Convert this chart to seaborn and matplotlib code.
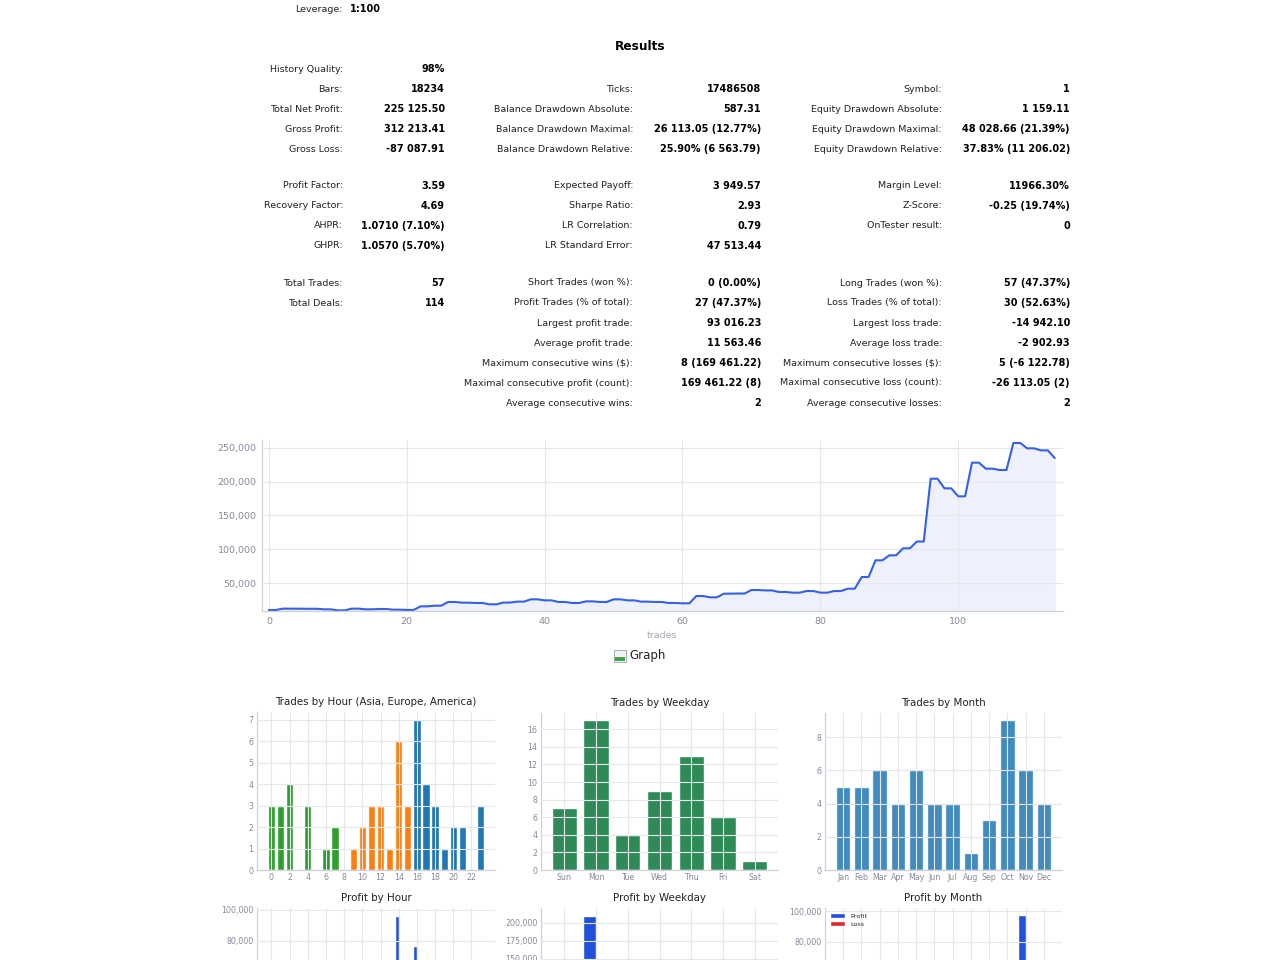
import matplotlib
matplotlib.use('Agg')
import matplotlib.pyplot as plt
from matplotlib.ticker import FuncFormatter, MultipleLocator
from matplotlib.patches import Rectangle
import numpy as np
import pandas as pd
import seaborn as sns

# ---------------- report values ----------------
leverage = '1:100'

stats1_a = [('History Quality:', '98%'), ('Bars:', '18234'), ('Total Net Profit:', '225 125.50'),
            ('Gross Profit:', '312 213.41'), ('Gross Loss:', '-87 087.91')]
stats2_a = [None, ('Ticks:', '17486508'), ('Balance Drawdown Absolute:', '587.31'),
            ('Balance Drawdown Maximal:', '26 113.05 (12.77%)'),
            ('Balance Drawdown Relative:', '25.90% (6 563.79)')]
stats3_a = [None, ('Symbol:', '1'), ('Equity Drawdown Absolute:', '1 159.11'),
            ('Equity Drawdown Maximal:', '48 028.66 (21.39%)'),
            ('Equity Drawdown Relative:', '37.83% (11 206.02)')]

stats1_b = [('Profit Factor:', '3.59'), ('Recovery Factor:', '4.69'),
            ('AHPR:', '1.0710 (7.10%)'), ('GHPR:', '1.0570 (5.70%)')]
stats2_b = [('Expected Payoff:', '3 949.57'), ('Sharpe Ratio:', '2.93'),
            ('LR Correlation:', '0.79'), ('LR Standard Error:', '47 513.44')]
stats3_b = [('Margin Level:', '11966.30%'), ('Z-Score:', '-0.25 (19.74%)'),
            ('OnTester result:', '0')]

stats1_c = [('Total Trades:', '57'), ('Total Deals:', '114')]
stats2_c = [('Short Trades (won %):', '0 (0.00%)'), ('Profit Trades (% of total):', '27 (47.37%)'),
            ('Largest profit trade:', '93 016.23'), ('Average profit trade:', '11 563.46'),
            ('Maximum consecutive wins ($):', '8 (169 461.22)'),
            ('Maximal consecutive profit (count):', '169 461.22 (8)'),
            ('Average consecutive wins:', '2')]
stats3_c = [('Long Trades (won %):', '57 (47.37%)'), ('Loss Trades (% of total):', '30 (52.63%)'),
            ('Largest loss trade:', '-14 942.10'), ('Average loss trade:', '-2 902.93'),
            ('Maximum consecutive losses ($):', '5 (-6 122.78)'),
            ('Maximal consecutive loss (count):', '-26 113.05 (2)'),
            ('Average consecutive losses:', '2')]

# balance after each deal (114 deals + initial deposit)
balance = [10000, 10000, 12000, 12000, 11900, 11900, 11800, 11800, 11000, 11000,
           9413, 9413, 12000, 12000, 11000, 11000, 11500, 11500, 10500, 10500,
           10100, 10100, 15400, 15400, 16400, 16400, 21900, 21900, 20900, 20900,
           20400, 20400, 18400, 18400, 21000, 21000, 22400, 22400, 25800, 25800,
           24300, 24300, 21900, 21900, 20400, 20400, 22800, 22800, 21900, 21900,
           25800, 25800, 24300, 24300, 22400, 22400, 21900, 21900, 20400, 20400,
           19900, 19900, 30700, 30700, 28800, 28800, 34200, 34200, 34400, 34400,
           39600, 39600, 39000, 39000, 36700, 36700, 35700, 35700, 38100, 38100,
           35700, 35700, 38100, 38100, 41600, 41600, 58900, 58900, 83600, 83600,
           91000, 91000, 101400, 101400, 111471, 111471, 204487, 204487, 190200, 190200,
           178374, 178374, 228300, 228300, 219400, 219400, 217400, 217400, 257400, 257400,
           249500, 249500, 246500, 246500, 235125.5]
trade_idx = list(range(len(balance)))

hours = list(range(24))
hour_trades = [3, 3, 4, 0, 3, 0, 1, 2, 0, 1, 2, 3, 3, 1, 6, 3, 7, 4, 3, 1, 2, 2, 0, 3]
hour_session = ['Asia'] * 8 + ['Europe'] * 8 + ['America'] * 8
hour_profit = [4000, 2500, 21000, 0, 3000, 0, 0, 5500, 0, 0, 2000, 8500,
               11000, 0, 96200, 4500, 76500, 49500, 10500, 0, 6000, 3500, 0, 7500]
hour_loss = [-3000, -2500, -1500, 0, -4000, 0, -1200, -2000, 0, -1800, -3500, -4500,
             -2000, -1500, -9000, -3000, -14900, -16000, -6500, -2200, -3000, -2500, 0, -3000]

weekdays = ['Sun', 'Mon', 'Tue', 'Wed', 'Thu', 'Fri', 'Sat']
weekday_trades = [7, 17, 4, 9, 13, 6, 1]
weekday_profit = [12000, 209700, 8000, 30500, 41000, 11000, 0]
weekday_loss = [-9500, -27000, -6000, -14500, -21000, -8000, -1100]

months = ['Jan', 'Feb', 'Mar', 'Apr', 'May', 'Jun', 'Jul', 'Aug', 'Sep', 'Oct', 'Nov', 'Dec']
month_trades = [5, 5, 6, 4, 6, 4, 4, 1, 3, 9, 6, 4]
month_profit = [21000, 6500, 12000, 3500, 49500, 8000, 11000, 0, 2500, 64000, 97200, 37000]
month_loss = [-4000, -5500, -6000, -3500, -9000, -7500, -4500, -1200, -3000, -26000, -9500, -7500]

# ---------------- style ----------------
sns.set_style('whitegrid')
plt.rcParams['font.family'] = ['DejaVu Sans']

W, H = 1280, 960
fig = plt.figure(figsize=(12.8, 9.6), dpi=100)


def fx(px):
    return px / W


def fy(py):
    return 1 - py / H


def box(left, top, right, bottom):
    return [fx(left), fy(bottom), (right - left) / W, (bottom - top) / H]


label_col = '#222222'
tick_col = '#858a99'
grid_col = '#e6e7ed'
spine_col = '#cdd0da'

# ---------------- text table ----------------
fig.text(fx(343), fy(9), 'Leverage:', ha='right', va='center', fontsize=6.8, color=label_col)
fig.text(fx(350), fy(9), leverage, ha='left', va='center', fontsize=7, weight='bold', color='black')
fig.text(fx(640), fy(47), 'Results', ha='center', va='center', fontsize=8.7, weight='bold', color='black')

label_right = [343, 633, 942]
value_right = [445, 761, 1070]
blocks = [(69, [stats1_a, stats2_a, stats3_a]),
          (186, [stats1_b, stats2_b, stats3_b]),
          (283, [stats1_c, stats2_c, stats3_c])]
for y0, cols in blocks:
    for c, rows in enumerate(cols):
        for r, row in enumerate(rows):
            if row is None:
                continue
            y = y0 + 20 * r
            fig.text(fx(label_right[c]), fy(y), row[0], ha='right', va='center',
                     fontsize=6.8, color=label_col)
            fig.text(fx(value_right[c]), fy(y), row[1], ha='right', va='center',
                     fontsize=7, weight='bold', color='black')

# ---------------- balance curve ----------------
ax = fig.add_axes(box(262, 440, 1063, 611))
sns.lineplot(x=trade_idx, y=balance, ax=ax, color='#3561e4', linewidth=1.5)
ax.fill_between(trade_idx, 0, balance, color='#eef1fb', zorder=0)
ax.set_xlim(-1, 115.2)
ax.set_ylim(8520, 261850)
ax.set_xticks(range(0, 101, 20))
ax.set_yticks(range(50000, 250001, 50000))
ax.yaxis.set_major_formatter(FuncFormatter(lambda v, p: f'{int(v):,}'))
ax.grid(True, color=grid_col, linewidth=0.8)
ax.set_axisbelow(True)
for s in ['top', 'right']:
    ax.spines[s].set_visible(False)
for s in ['left', 'bottom']:
    ax.spines[s].set_color(spine_col)
    ax.spines[s].set_linewidth(0.9)
ax.tick_params(length=0, labelsize=6.8, colors=tick_col, pad=4)
ax.set_xlabel('')
ax.set_ylabel('')
fig.text(fx(662), fy(635), 'trades', ha='center', va='center', fontsize=6.8, color='#a4a8b5')

# broken image placeholder
fig.add_artist(Rectangle((fx(614), fy(662)), 12 / W, 12 / H, transform=fig.transFigure,
                         facecolor='#eef3f7', edgecolor='#9aa3ad', linewidth=0.6))
fig.add_artist(Rectangle((fx(615), fy(661)), 10 / W, 4 / H, transform=fig.transFigure,
                         facecolor='#4aa04a', edgecolor='none'))
fig.text(fx(629), fy(656), 'Graph', ha='left', va='center', fontsize=8.5, color='#222222')


def style_small(ax, title):
    ax.set_title(title, fontsize=7.4, color='#222222', pad=5)
    ax.grid(True, color=grid_col, linewidth=0.8)
    ax.set_axisbelow(False)
    for s in ['top', 'right']:
        ax.spines[s].set_visible(False)
    for s in ['left', 'bottom']:
        ax.spines[s].set_color(spine_col)
        ax.spines[s].set_linewidth(0.9)
    ax.tick_params(length=0, labelsize=5.7, colors=tick_col, pad=2.5)
    ax.set_xlabel('')
    ax.set_ylabel('')


# ---------------- trades by hour ----------------
ax_h = fig.add_axes(box(257, 712, 495, 870))
sns.barplot(x=hours, y=hour_trades, hue=hour_session, dodge=False, legend=False,
            palette={'Asia': '#2ca02c', 'Europe': '#ff7f0e', 'America': '#1f77b4'},
            saturation=1, width=0.8, ax=ax_h)
ax_h.set_xticks(range(0, 24, 2))
ax_h.set_xticklabels([str(h) for h in range(0, 24, 2)])
ax_h.set_xlim(-1.59, 24.59)
ax_h.set_ylim(0, 7.35)
ax_h.yaxis.set_major_locator(MultipleLocator(1))
style_small(ax_h, 'Trades by Hour (Asia, Europe, America)')

# ---------------- trades by weekday ----------------
ax_w = fig.add_axes(box(541, 713, 778, 870))
sns.barplot(x=weekdays, y=weekday_trades, color='#2e8b57', saturation=1, width=0.8, ax=ax_w)
ax_w.set_xlim(-0.74, 6.74)
ax_w.set_ylim(0, 17.85)
ax_w.yaxis.set_major_locator(MultipleLocator(2))
style_small(ax_w, 'Trades by Weekday')

# ---------------- trades by month ----------------
ax_m = fig.add_axes(box(825, 713, 1062, 870))
sns.barplot(x=months, y=month_trades, color='#1f77b4', alpha=0.85, saturation=1, width=0.8, ax=ax_m)
ax_m.set_xlim(-0.99, 11.99)
ax_m.set_ylim(0, 9.45)
ax_m.yaxis.set_major_locator(MultipleLocator(2))
style_small(ax_m, 'Trades by Month')

# ---------------- profit charts (cut by page bottom) ----------------
pal = {'Profit': '#2150dc', 'Loss': '#dc2a2a'}
money = FuncFormatter(lambda v, p: f'{int(v):,}')


def profit_frame(cats, prof, loss):
    return pd.DataFrame({'cat': list(cats) * 2,
                         'value': list(prof) + list(loss),
                         'kind': ['Profit'] * len(cats) + ['Loss'] * len(cats)})


ax_ph = fig.add_axes(box(257, 908, 495, 1098))
sns.barplot(data=profit_frame(hours, hour_profit, hour_loss), x='cat', y='value', hue='kind',
            hue_order=['Profit', 'Loss'], palette=pal, saturation=1, width=0.8,
            legend=False, ax=ax_ph)
ax_ph.set_xticks(range(0, 24, 2))
ax_ph.set_xlim(-1.59, 24.59)
ax_ph.set_ylim(-20400, 101000)
ax_ph.set_yticks([80000, 100000])
ax_ph.yaxis.set_major_formatter(money)
style_small(ax_ph, 'Profit by Hour')
ax_ph.tick_params(labelbottom=False)

ax_pw = fig.add_axes(box(541, 908, 778, 1098))
sns.barplot(data=profit_frame(weekdays, weekday_profit, weekday_loss), x='cat', y='value',
            hue='kind', hue_order=['Profit', 'Loss'], palette=pal, saturation=1, width=0.8,
            legend=False, ax=ax_pw)
ax_pw.set_xlim(-0.74, 6.74)
ax_pw.set_ylim(-43400, 220500)
ax_pw.set_yticks([150000, 175000, 200000])
ax_pw.yaxis.set_major_formatter(money)
style_small(ax_pw, 'Profit by Weekday')
ax_pw.tick_params(labelbottom=False)

ax_pm = fig.add_axes(box(825, 908, 1062, 1098))
sns.barplot(data=profit_frame(months, month_profit, month_loss), x='cat', y='value',
            hue='kind', hue_order=['Profit', 'Loss'], palette=pal, saturation=1, width=0.8,
            ax=ax_pm)
ax_pm.set_xlim(-0.99, 11.99)
ax_pm.set_ylim(-22200, 102000)
ax_pm.set_yticks([80000, 100000])
ax_pm.yaxis.set_major_formatter(money)
style_small(ax_pm, 'Profit by Month')
ax_pm.tick_params(labelbottom=False)
ax_pm.legend(loc='upper left', fontsize=4.6, frameon=False, handlelength=2.4,
             handleheight=0.7, borderaxespad=0.4, labelspacing=0.4)

fig.savefig('out.png', dpi=100)
